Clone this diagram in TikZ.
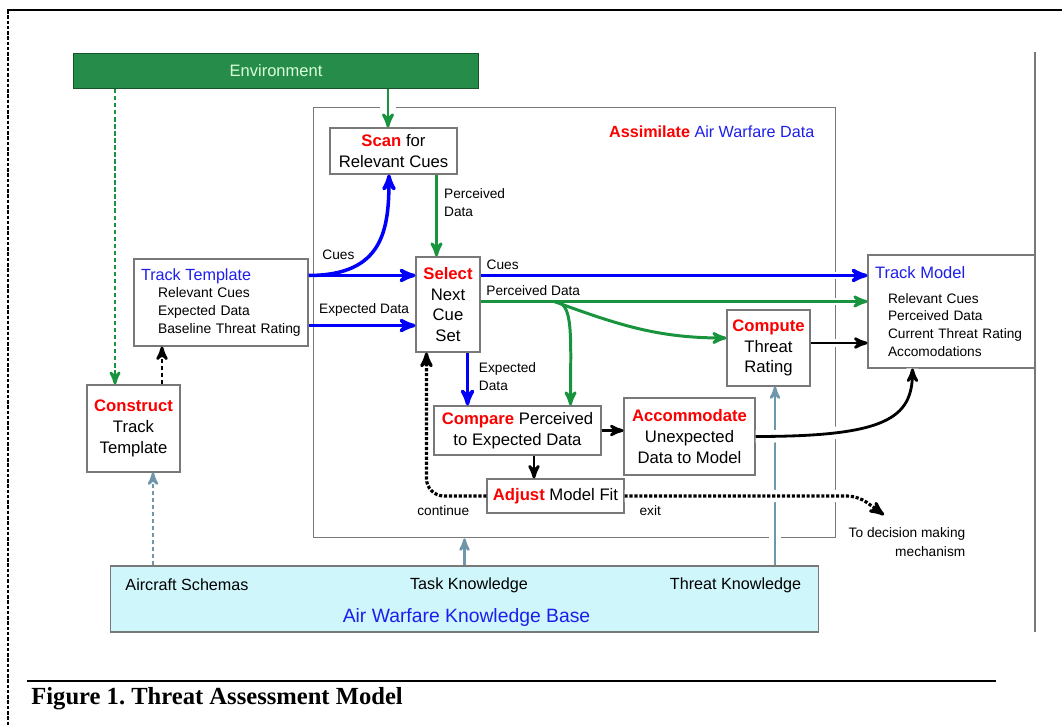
\documentclass[tikz,border=0pt]{standalone}
\usepackage{fontspec}
\setmainfont{Liberation Sans}
\newfontfamily\capfont{Liberation Serif}
\usetikzlibrary{arrows}

\definecolor{envgreen}{RGB}{38,140,74}
\definecolor{flowgreen}{RGB}{25,148,62}
\definecolor{flowblue}{RGB}{0,0,250}
\definecolor{actred}{RGB}{250,0,0}
\definecolor{titleblue}{RGB}{30,30,235}
\definecolor{kbfill}{RGB}{206,246,251}
\definecolor{kbarrow}{RGB}{112,150,172}
\definecolor{framegray}{RGB}{120,120,120}

\newcommand{\act}[1]{\textcolor{actred}{\textbf{#1}}}

\begin{document}
\frenchspacing
\begin{tikzpicture}[x=0.02cm,y=-0.02cm,>=stealth',
  box/.style={draw=framegray,fill=white,line width=0.6pt,align=center,inner sep=2pt,font=\fontsize{9.5}{11.8}\selectfont},
  lbl/.style={text=black,font=\fontsize{7.8}{10.2}\selectfont,inner sep=1.5pt,align=left},
  kbtext/.style={font=\fontsize{9.2}{11}\selectfont},
  halo/.style={preaction={-,solid,draw=white,line width=#1}},halo/.default=4.5pt,
  blueflow/.style={->,flowblue,line width=2pt},
  greenflow/.style={->,flowgreen,line width=1.7pt},
  blackflow/.style={->,black,line width=1.6pt},
  loopflow/.style={->,black,line width=1.8pt,densely dotted},
  kbflow/.style={->,kbarrow,line width=1.4pt}]

  \useasboundingbox (0,0) rectangle (1062,726);

  % page frame
  \draw[line width=1.2pt] (7,10) -- (1062,10);
  \draw[line width=0.8pt,dash pattern=on 2pt off 1pt] (8,10) -- (8,726);
  \draw[framegray,line width=0.7pt] (1035,52) -- (1035,632);

  \node[fill=envgreen,draw=envgreen!60!black,line width=0.6pt,minimum width=8.12cm,minimum height=0.7cm,
        text=white!85!green,font=\fontsize{9.4}{11}\selectfont] (env) at (276,71) {Environment};
  \node[draw=framegray,line width=0.6pt,minimum width=10.46cm,minimum height=8.62cm] (assim) at (574.5,322.5) {};
  \node[anchor=north east,font=\fontsize{9.2}{11}\selectfont] (assimtitle) at ([xshift=-0.32cm,yshift=-0.26cm]assim.north east)
    {\act{Assimilate} \textcolor{titleblue}{Air Warfare Data}};

  \node[box,minimum width=2.54cm,minimum height=0.92cm] (scan) at (393.5,151) {\act{Scan} for\\Relevant Cues};
  \node[box,minimum width=3.48cm,minimum height=1.74cm,text width=3.2cm,align=left,font=\fontsize{7.9}{10.2}\selectfont] (tt) at (221,302.5)
    {{\fontsize{9.2}{10.2}\selectfont\textcolor{titleblue}{Track Template}}\\
     \hspace*{0.34cm}Relevant Cues\\ \hspace*{0.34cm}Expected Data\\ \hspace*{0.34cm}Baseline Threat Rating};
  \node[box,minimum width=1.28cm,minimum height=1.9cm] (sel) at (448,304.5) {\act{Select}\\Next\\Cue\\Set};
  \node[box,minimum width=1.86cm,minimum height=1.74cm] (con) at (133.5,428.5) {\act{Construct}\\Track\\Template};
  \node[box,minimum width=1.66cm,minimum height=1.52cm] (comp) at (768.5,348) {\act{Compute}\\Threat\\Rating};
  \node[box,minimum width=3.34cm,minimum height=0.98cm] (cmp) at (517.5,430.5) {\act{Compare} Perceived\\to Expected Data};
  \node[box,minimum width=2.62cm,minimum height=1.54cm] (acc) at (689.5,436.5) {\act{Accommodate}\\Unexpected\\Data to Model};
  \node[box,minimum width=2.74cm,minimum height=0.68cm] (adj) at (555.5,496) {\act{Adjust} Model Fit};
  \node[box,minimum width=3.34cm,minimum height=2.26cm,text width=3.06cm,align=left,font=\fontsize{7.8}{10}\selectfont] (tm) at (951.5,311.5)
    {{\fontsize{9.4}{10}\selectfont\textcolor{titleblue}{Track Model}}\\[4pt]
     \hspace*{0.26cm}Relevant Cues\\ \hspace*{0.26cm}Perceived Data\\
     \hspace*{0.26cm}Current Threat Rating\\ \hspace*{0.26cm}Accomodations};

  \node[draw=framegray,fill=kbfill,line width=0.6pt,minimum width=14.18cm,minimum height=1.32cm] (kb) at (464.5,599) {};
  \node[kbtext] (schemas) at (187,585) {Aircraft Schemas};
  \node[kbtext] (taskkn) at (469,585) {Task Knowledge};
  \node[kbtext] (threatkn) at (735.5,585) {Threat Knowledge};
  \node[font=\fontsize{11}{13}\selectfont,text=titleblue] (kbtitle) at (466.5,617) {Air Warfare Knowledge Base};

  \node[lbl,align=right,font=\fontsize{7.8}{10.8}\selectfont] (dec) at (907,542.5) {To decision making\\mechanism};

  \draw[line width=1pt] (27,681) -- (996,681);
  \node[anchor=base west,inner sep=0pt,font=\capfont\bfseries\fontsize{14}{16}\selectfont] (caption) at (31,704)
    {Figure 1. Threat Assessment Model};

  % environment and knowledge inputs
  \coordinate (scanin) at ([xshift=-0.11cm]scan.north);
  \coordinate (conin) at ([xshift=-0.37cm]con.north);
  \coordinate (conout) at ([xshift=0.57cm]con.north);
  \coordinate (schemaout) at ([xshift=0.39cm]con.south);
  \coordinate (compin) at ([xshift=0.13cm]comp.south);
  \path (scanin |- env.south) edge[greenflow,halo=9pt] (scanin)
        (conin |- env.south) edge[greenflow,line width=1.5pt,dash pattern=on 2.5pt off 1.5pt] (conin)
        (conout) edge[blackflow,dash pattern=on 2.5pt off 1.5pt] (conout |- tt.south)
        (schemaout |- kb.north) edge[kbflow,dash pattern=on 2.5pt off 1.5pt] (schemaout)
        (kb.north) edge[kbflow] (kb.north |- assim.south)
        (compin |- kb.north) edge[kbflow,halo=7pt] (compin);

  % template into cue selection
  \coordinate (cuesout) at ([yshift=-0.34cm]tt.north east);
  \coordinate (expout) at ([yshift=0.42cm]tt.south east);
  \coordinate (scanout) at ([xshift=-0.42cm]scan.south east);
  \path (cuesout) edge[blueflow] node[lbl,above=6.5pt,pos=0.28] {Cues} (cuesout -| sel.west)
        (expout) edge[blueflow] node[lbl,above=3pt,pos=0.52] {Expected Data} (expout -| sel.west)
        (scanout) edge[greenflow] node[lbl,right=2pt,pos=0.34] {Perceived\\Data} (scanout |- sel.north);
  \draw[blueflow] (cuesout) .. controls +(75,0) and +(0,55) .. ([xshift=-0.09cm]scan.south);

  % cue selection into track model
  \coordinate (cuesel) at ([yshift=-0.38cm]sel.north east);
  \coordinate (pdsel) at ([yshift=-0.9cm]sel.north east);
  \draw[blueflow,halo] (cuesel) -- node[lbl,above right=1pt,pos=0] {Cues} (cuesel -| tm.west);
  \draw[greenflow,halo] (pdsel) -- coordinate[pos=0.19] (pdsplit) node[lbl,above right=1pt,pos=0] {Perceived Data} (pdsel -| tm.west);
  \draw[greenflow] (pdsplit) to[out=-20,in=180] ([yshift=0.2cm]comp.west);
  \draw[greenflow] (pdsplit) .. controls +(20,0) and +(0,-70) .. ([xshift=-0.62cm]cmp.north east);

  % comparison and adjustment
  \coordinate (expdown) at ([xshift=-0.26cm]sel.south east);
  \coordinate (ctrout) at ([yshift=0.1cm]comp.east);
  \coordinate (adjin) at ([xshift=0.33cm]cmp.south);
  \path (expdown) edge[blueflow] node[lbl,right=4pt,pos=0.46] {Expected\\Data} (expdown |- cmp.north)
        (ctrout) edge[blackflow,halo] (ctrout -| tm.west)
        (cmp.east) edge[blackflow] (cmp.east -| acc.west)
        (adjin) edge[blackflow] (adjin |- adj.north);
  \draw[blackflow,halo=7pt] (acc.east) .. controls +(130,0) and +(0,50) .. ([xshift=0.9cm]tm.south west);

  \coordinate (contin) at ([xshift=0.22cm]sel.south west);
  \coordinate (exitpt) at (884,515);
  \draw[loopflow,rounded corners=10pt] (adj.west) -- node[lbl,below=3pt,pos=0.72] {continue} (adj.west -| contin) -- (contin);
  \draw[loopflow,halo=7pt,rounded corners=6pt] (adj.east) -- node[lbl,below=3pt,pos=0.11] {exit} ([xshift=-0.52cm]exitpt |- adj.east) -- (exitpt);

\end{tikzpicture}
\end{document}
